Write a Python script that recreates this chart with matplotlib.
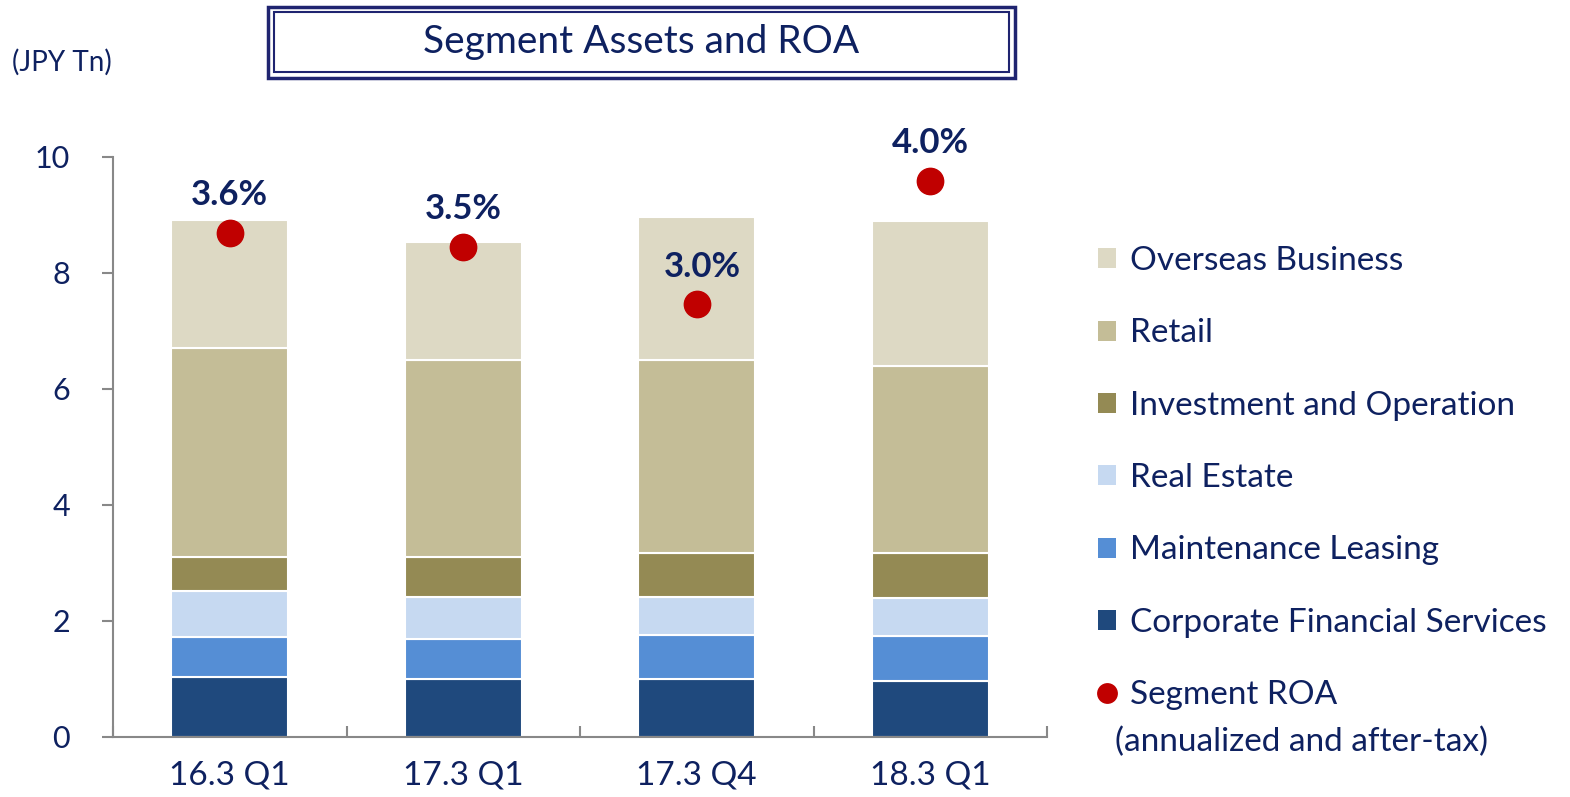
import numpy as np
import matplotlib
matplotlib.use("Agg")
import matplotlib.pyplot as plt
from matplotlib.patches import Patch, Rectangle
from matplotlib.lines import Line2D

plt.rcParams['font.family'] = ['Lato', 'DejaVu Sans']

# data (JPY Tn)
periods = ["16.3 Q1", "17.3 Q1", "17.3 Q4", "18.3 Q1"]
corporate = [1.04, 1.00, 1.00, 0.97]
maintenance = [0.69, 0.69, 0.76, 0.77]
real_estate = [0.79, 0.73, 0.66, 0.65]
investment = [0.58, 0.68, 0.76, 0.78]
retail = [3.61, 3.40, 3.32, 3.23]
overseas = [2.20, 2.03, 2.47, 2.50]
roa = [3.60, 3.50, 3.09, 3.97]          # segment ROA, %
roa_labels = ["3.6%", "3.5%", "3.0%", "4.0%"]

navy = "#0E2160"
grey = "#888888"
segments = [
    ("Corporate Financial Services", corporate, "#1F497D"),
    ("Maintenance Leasing", maintenance, "#558ED5"),
    ("Real Estate", real_estate, "#C6D9F1"),
    ("Investment and Operation", investment, "#948A54"),
    ("Retail", retail, "#C4BD97"),
    ("Overseas Business", overseas, "#DDD9C4"),
]

W, H = 1570, 797
fig = plt.figure(figsize=(W / 100, H / 100), dpi=100)
ax = fig.add_axes([113 / W, 1 - 737 / H, (1047 - 113) / W, (737 - 157) / H])

x = np.arange(len(periods))
bottom = np.zeros(len(periods))
handles = []
for name, vals, col in segments:
    ax.bar(x, vals, 0.5, bottom=bottom, color=col, edgecolor="white", linewidth=1.5, zorder=2)
    bottom += np.array(vals)
    handles.append(Patch(facecolor=col, edgecolor="none", label=name))

ax.set_xlim(-0.5, 3.5)
ax.set_ylim(0, 10)
ax.set_yticks(np.arange(0, 11, 2))
ax.set_xticks(x)
ax.set_xticklabels(periods)
ax.set_xticks(np.arange(-0.5, 4, 1), minor=True)
ax.tick_params(axis="y", length=8, width=1.5, color=grey, pad=23, labelsize=22, labelcolor=navy)
ax.tick_params(axis="x", which="major", length=0, pad=17, labelsize=24, labelcolor=navy)
ax.tick_params(axis="x", which="minor", direction="in", length=8, width=1.5, color=grey)
for s in ["top", "right"]:
    ax.spines[s].set_visible(False)
for s in ["left", "bottom"]:
    ax.spines[s].set_color(grey)
    ax.spines[s].set_linewidth(1.5)

# ROA on a hidden secondary scale
ax2 = ax.twinx()
ax2.set_ylim(0, 4.14)
ax2.axis("off")
ax2.scatter(x, roa, s=360, color="#C00000", zorder=5, clip_on=False)
for xi, r, lab in zip(x, roa, roa_labels):
    ax2.annotate(lab, (xi, r), xytext=(4 if lab == "3.0%" else 0, 27), textcoords="offset points",
                 ha="center", va="center", fontsize=25, fontweight="bold", color=navy)

# legend
order = handles[::-1]
order.append(Line2D([], [], marker="o", linestyle="none", markersize=15,
                    markerfacecolor="#C00000", markeredgecolor="none", label="Segment ROA"))
leg = fig.legend(handles=order, loc="upper left", bbox_to_anchor=(1098 / W, 1 - 246 / H),
                 frameon=False, fontsize=24, labelcolor=navy, handlelength=0.55, handleheight=0.55,
                 handletextpad=0.4, labelspacing=1.27, borderpad=0, borderaxespad=0)
fig.text(1115 / W, 1 - 742 / H, "(annualized and after-tax)", fontsize=24, color=navy, va="center")

# title box with double border
fig.add_artist(Rectangle((268 / W, 1 - 78 / H), (1015 - 268) / W, 71 / H, transform=fig.transFigure,
                         fill=False, edgecolor="#1F2470", linewidth=2.5))
fig.add_artist(Rectangle((274 / W, 1 - 72 / H), (1009 - 274) / W, 60 / H, transform=fig.transFigure,
                         fill=False, edgecolor="#1F2470", linewidth=1.5))
fig.text(641 / W, 1 - 42 / H, "Segment Assets and ROA", fontsize=28, color=navy, ha="center", va="center")
fig.text(12 / W, 1 - 62 / H, "(JPY Tn)", fontsize=20, color=navy, ha="left", va="center")

fig.savefig("out.png", dpi=100)
